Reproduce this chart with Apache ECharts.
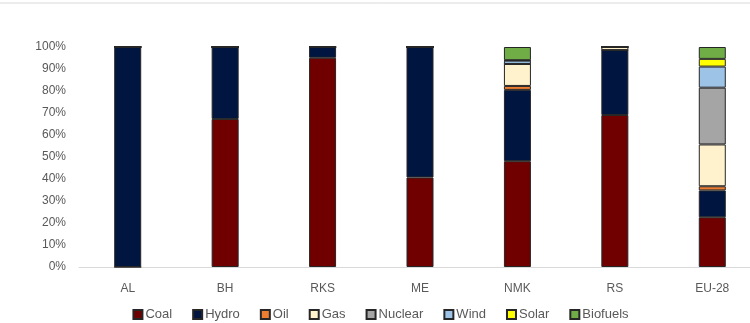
<!DOCTYPE html>
<html><head><meta charset="utf-8">
<script src="https://cdn.jsdelivr.net/npm/echarts@6/dist/echarts.min.js"></script>
<style>html,body{margin:0;padding:0;background:#fff;overflow:hidden}#c{width:761px;height:323px}</style>
</head><body><div id="c"></div>
<script>
const categories = ['AL','BH','RKS','ME','NMK','RS','EU-28'];
const coal     = [0,   67.3, 95.1, 40.7, 48.1, 69.1, 22.6];
const hydro    = [100, 32.7, 4.9,  59.3, 32.4, 29.5, 12.2];
const oil      = [0,   0,    0,    0,    1.8,  0,    1.9];
const gas      = [0,   0,    0,    0,    10.0, 1.4,  19.0];
const nuclear  = [0,   0,    0,    0,    0,    0,    25.8];
const wind     = [0,   0,    0,    0,    1.5,  0,    9.6];
const solar    = [0,   0,    0,    0,    0.2,  0,    3.5];
const biofuels = [0,   0,    0,    0,    6.0,  0,    5.4];
const seriesNames = ['Coal','Hydro','Oil','Gas','Nuclear','Wind','Solar','Biofuels'];
const seriesData = [coal,hydro,oil,gas,nuclear,wind,solar,biofuels];
const colors = ['#700000','#001540','#ed7d31','#fff2cc','#a5a5a5','#9dc3e6','#ffff00','#70ad47'];

const chart = echarts.init(document.getElementById('c'));
chart.setOption({
  animation:false,
  color:colors,
  textStyle:{fontFamily:'"Liberation Sans", Arial, sans-serif'},
  graphic:[{type:'line',shape:{x1:0,y1:3,x2:761,y2:3},style:{stroke:'#d9d9d9',lineWidth:1}}],
  grid:{left:79,right:0,top:47,bottom:56,containLabel:false},
  legend:{
    data:seriesNames,top:303,left:'center',itemWidth:9,itemHeight:9,itemGap:20,
    icon:'rect',
    textStyle:{color:'#595959',fontSize:13,padding:[0,0,0,-2]}
  },
  xAxis:{
    type:'category',data:categories,
    axisLine:{lineStyle:{color:'#d9d9d9'}},
    axisTick:{show:false},
    axisLabel:{color:'#595959',fontSize:12,margin:16}
  },
  yAxis:{
    type:'value',min:0,max:100,interval:10,
    axisLabel:{formatter:'{value}%',color:'#595959',fontSize:12,margin:13},
    splitLine:{show:false},axisLine:{show:false},axisTick:{show:false}
  },
  series:seriesNames.map((n,i)=>({
    name:n,type:'bar',stack:'total',barWidth:27,
    data:seriesData[i],
    itemStyle:{borderColor:'#262626',borderWidth:1}
  }))
});
</script></body></html>
